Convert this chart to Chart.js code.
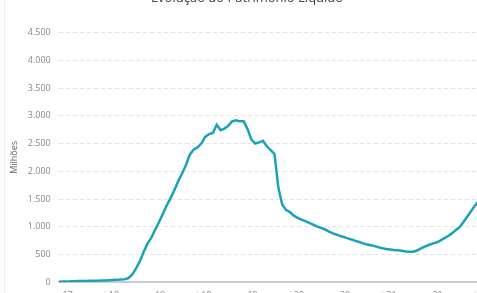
<!DOCTYPE html>
<html>
<head>
<meta charset="utf-8">
<script src="https://cdn.jsdelivr.net/npm/chart.js@4"></script>
<style>
  html, body { margin: 0; padding: 0; background: #fff; overflow: hidden; width: 477px; height: 293px; }
  #card { position: absolute; left: 4px; top: -16px; width: 484px; height: 317px; border-left: 1px solid #eeeeee; }
</style>
</head>
<body>
<div id="card"><canvas id="myChart"></canvas></div>
<script>
// patrimônio líquido em milhões, quinzenal de nov/17 a jun/22
var valores = [
  10, 12, 14, 15, 18, 20, 20, 22, 24, 25,
  28, 30, 32, 35, 38, 42, 48, 55, 70, 130,
  240, 370, 540, 690, 800, 940, 1080, 1230, 1380, 1510,
  1660, 1820, 1960, 2110, 2300, 2390, 2430, 2500, 2620, 2670,
  2690, 2840, 2740, 2770, 2820, 2900, 2920, 2900, 2900, 2760,
  2570, 2500, 2520, 2550, 2450, 2380, 2310, 1700, 1400, 1300,
  1263, 1200, 1160, 1130, 1100, 1070, 1040, 1005, 980, 955,
  915, 885, 860, 835, 814, 790, 770, 745, 725, 700,
  680, 665, 650, 630, 612, 600, 590, 580, 575, 565,
  555, 548, 550, 572, 610, 640, 670, 695, 715, 750,
  790, 830, 880, 935, 990, 1080, 1180, 1280, 1380, 1470,
  1560
];

var meses = ['jan', 'fev', 'mar', 'abr', 'mai', 'jun', 'jul', 'ago', 'set', 'out', 'nov', 'dez'];
var rotulosX = ['nov 17', 'mai 18', 'nov 18', 'mai 19', 'nov 19', 'mai 20', 'nov 20', 'mai 21', 'nov 21', 'mai 22'];
var ticksY = [0, 500, 1000, 1500, 2000, 2500, 3000, 3500, 4000, 4500];

// categorias: dia 1 e dia 15 de cada mês
var categorias = [];
for (var i = 0; i < valores.length; i++) {
  var m = 10 + Math.floor(i / 2);
  var nome = meses[m % 12] + ' ' + (17 + Math.floor(m / 12));
  categorias.push(i % 2 === 0 ? nome : '15 ' + nome);
}

var fonte = { family: '"Open Sans", sans-serif', size: 9 };

var ctx = document.getElementById('myChart').getContext('2d');

var chart = new Chart(ctx, {
  type: 'line',
  data: {
    labels: categorias,
    datasets: [{
      label: 'Patrimônio Líquido',
      data: valores,
      borderColor: '#1aa3b8',
      backgroundColor: '#1aa3b8',
      borderWidth: 2.5,
      pointRadius: 0,
      tension: 0,
      fill: false
    }]
  },
  options: {
    responsive: true,
    maintainAspectRatio: false,
    animation: false,
    layout: { padding: { left: 0, right: 0, top: 0, bottom: 0 } },
    plugins: {
      legend: { display: false },
      tooltip: { enabled: false },
      title: {
        display: true,
        text: 'Evolução do Patrimônio Líquido',
        color: '#444',
        font: { family: '"Open Sans", sans-serif', size: 13, weight: 'normal' },
        padding: { top: 6, bottom: 27 }
      }
    },
    scales: {
      x: {
        grid: { display: false },
        border: { display: true, color: '#cccccc', width: 2 },
        ticks: {
          color: '#888',
          font: fonte,
          autoSkip: false,
          maxRotation: 0,
          padding: 0,
          callback: function (v, idx) {
            var l = categorias[idx];
            return rotulosX.indexOf(l) >= 0 ? l : null;
          }
        }
      },
      y: {
        min: 0,
        max: 4500,
        afterBuildTicks: function (axis) {
          axis.ticks = ticksY.map(function (v) { return { value: v }; });
        },
        border: { display: false, dash: [4, 3] },
        grid: { color: '#e3e3e3', lineWidth: 1, drawTicks: false },
        ticks: {
          color: '#888',
          font: fonte,
          padding: 8,
          callback: function (v) {
            return String(v).replace(/\B(?=(\d{3})+(?!\d))/g, '.');
          }
        },
        title: {
          display: true,
          text: 'Milhões',
          color: '#666',
          font: fonte,
          padding: { top: 4, bottom: 0 }
        }
      }
    }
  }
});
</script>
</body>
</html>
